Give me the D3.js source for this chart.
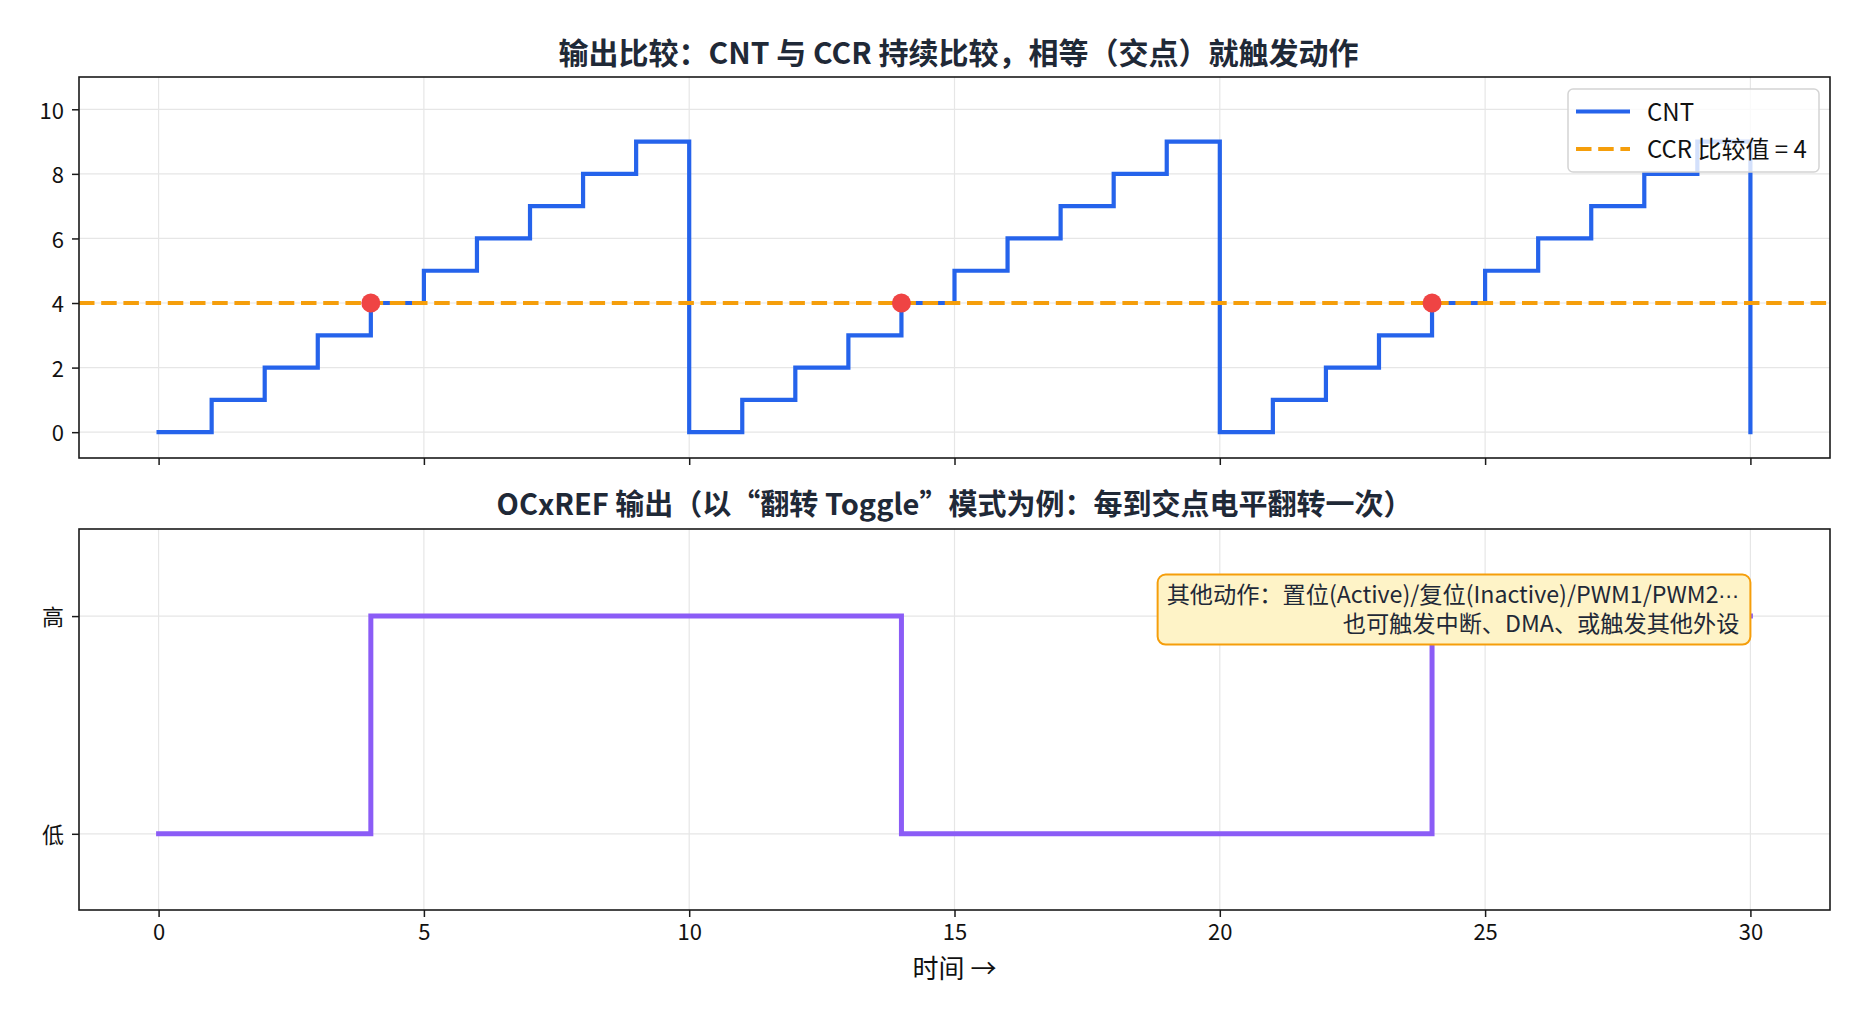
<!DOCTYPE html>
<html>
<head>
<meta charset="utf-8">
<script src="https://cdn.jsdelivr.net/npm/d3@7"></script>
<style>
  html, body { margin: 0; padding: 0; background: #ffffff; }
  svg { display: block; font-family: "Noto Sans CJK SC", "Noto Sans", sans-serif; }
</style>
</head>
<body>
<svg id="chart" width="1871" height="1024"></svg>
<script>
// ---------------- data ----------------
const timeSteps = [0,1,2,3,4,5,6,7,8,9,10,11,12,13,14,15,16,17,18,19,20,21,22,23,24,25,26,27,28,29,30];
const cntValues = [0,1,2,3,4,5,6,7,8,9,0,1,2,3,4,5,6,7,8,9,0,1,2,3,4,5,6,7,8,9,0];
const ocrefLevels = [0,0,0,0,1,1,1,1,1,1,1,1,1,1,0,0,0,0,0,0,0,0,0,0,1,1,1,1,1,1,1];
const ccrValue = 4;
const matchTimes = [4,14,24];
const matchValues = [4,4,4];
const xTickValues = [0,5,10,15,20,25,30];
const yTickValuesTop = [0,2,4,6,8,10];
const levelTickValues = [0,1];
const levelTickLabels = ["低","高"];
const titleTop = "输出比较：CNT 与 CCR 持续比较，相等（交点）就触发动作";
const titleBottom = "OCxREF 输出（以“翻转 Toggle”模式为例：每到交点电平翻转一次）";
const xAxisLabel = "时间 →";
const legendLabels = ["CNT", "CCR 比较值 = 4"];
const noteLine1 = "其他动作：置位(Active)/复位(Inactive)/PWM1/PWM2";
const noteEllipsis = "⋯";
const noteLine2 = "也可触发中断、DMA、或触发其他外设";

// ---------------- layout ----------------
const W = 1871, H = 1024;
const left = 79, right = 1830;
const top1 = 77, bot1 = 458;
const top2 = 529, bot2 = 910;
const textColor = "#1f2937";
const gridColor = "#e6e6e6";
const spineColor = "#1a1a1a";
const blue = "#2563eb", orange = "#f59e0b", red = "#ef4444", purple = "#8b5cf6";
const tickFont = 22, legendFont = 24, titleFont = 30, title2Font = 29, noteFont = 23.2, labelFont = 26;

const svg = d3.select("#chart");
svg.append("rect").attr("width", W).attr("height", H).attr("fill", "#fff");

const x = d3.scaleLinear().domain([-1.5, 31.5]).range([left, right]);
const y1 = d3.scaleLinear().domain([-0.8, 11]).range([bot1, top1]);
const y2 = d3.scaleLinear().domain([-0.35, 1.4]).range([bot2, top2]);

function drawGrid(g, yScale, yTicks, yTop, yBot) {
  g.selectAll(".vg").data(xTickValues).enter().append("line")
    .attr("x1", d => x(d)).attr("x2", d => x(d))
    .attr("y1", yTop).attr("y2", yBot)
    .attr("stroke", gridColor).attr("stroke-width", 1.2);
  g.selectAll(".hg").data(yTicks).enter().append("line")
    .attr("x1", left).attr("x2", right)
    .attr("y1", d => yScale(d)).attr("y2", d => yScale(d))
    .attr("stroke", gridColor).attr("stroke-width", 1.2);
}

function styleAxis(axisG, fontSize) {
  axisG.select(".domain").remove();
  axisG.selectAll(".tick line").attr("stroke", spineColor).attr("stroke-width", 1.5);
  axisG.selectAll(".tick text").attr("fill", "#111").attr("font-size", fontSize)
    .attr("font-family", "'Noto Sans CJK SC', sans-serif");
}

// clip paths
const defs = svg.append("defs");
defs.append("clipPath").attr("id", "clip1").append("rect")
  .attr("x", left).attr("y", top1).attr("width", right - left).attr("height", bot1 - top1);
defs.append("clipPath").attr("id", "clip2").append("rect")
  .attr("x", left).attr("y", top2).attr("width", right - left).attr("height", bot2 - top2);

// ================= top panel =================
const g1 = svg.append("g");
drawGrid(g1, y1, yTickValuesTop, top1, bot1);

const plot1 = g1.append("g").attr("clip-path", "url(#clip1)");
const cntLine = d3.line().x(d => x(d[0])).y(d => y1(d[1])).curve(d3.curveStepAfter);
plot1.append("path")
  .datum(timeSteps.map((t, i) => [t, cntValues[i]]))
  .attr("d", cntLine)
  .attr("fill", "none").attr("stroke", blue).attr("stroke-width", 4.2)
  .attr("stroke-linejoin", "miter").attr("stroke-linecap", "square");

plot1.append("line")
  .attr("x1", left).attr("x2", right)
  .attr("y1", y1(ccrValue)).attr("y2", y1(ccrValue))
  .attr("stroke", orange).attr("stroke-width", 4.2)
  .attr("stroke-dasharray", "15.5,6.7");

plot1.selectAll(".match").data(matchTimes).enter().append("circle")
  .attr("cx", d => x(d)).attr("cy", (d, i) => y1(matchValues[i]))
  .attr("r", 9.5).attr("fill", red);

const ax1x = g1.append("g").attr("transform", `translate(0,${bot1})`)
  .call(d3.axisBottom(x).tickValues(xTickValues).tickSize(7).tickFormat(""));
styleAxis(ax1x, tickFont);
const ax1y = g1.append("g").attr("transform", `translate(${left},0)`)
  .call(d3.axisLeft(y1).tickValues(yTickValuesTop).tickSize(7).tickPadding(8).tickFormat(d3.format("d")));
styleAxis(ax1y, tickFont);
ax1y.selectAll(".tick text").attr("dy", "0.4em");

g1.append("rect").attr("x", left).attr("y", top1).attr("width", right - left).attr("height", bot1 - top1)
  .attr("fill", "none").attr("stroke", spineColor).attr("stroke-width", 1.6);

g1.append("text").attr("x", (left + right) / 2 + 4).attr("y", 64)
  .attr("text-anchor", "middle").attr("font-size", titleFont).attr("font-weight", 700)
  .attr("fill", textColor).text(titleTop);

// legend
const lg = g1.append("g");
lg.append("rect").attr("x", 1568).attr("y", 89).attr("width", 251).attr("height", 83)
  .attr("rx", 5).attr("ry", 5)
  .attr("fill", "#ffffff").attr("fill-opacity", 0.8)
  .attr("stroke", "#d4d4d4").attr("stroke-width", 1.5);
const legendItems = [
  { label: legendLabels[0], color: blue, dash: null },
  { label: legendLabels[1], color: orange, dash: "15.5,6.7" }
];
legendItems.forEach((it, i) => {
  const cy = 111.5 + i * 37.5;
  lg.append("line").attr("x1", 1576).attr("x2", 1630).attr("y1", cy).attr("y2", cy)
    .attr("stroke", it.color).attr("stroke-width", 4.2)
    .attr("stroke-dasharray", it.dash);
  lg.append("text").attr("x", 1647).attr("y", cy).attr("dy", "0.38em")
    .attr("font-size", legendFont).attr("fill", "#111").text(it.label);
});

// ================= bottom panel =================
const g2 = svg.append("g");
drawGrid(g2, y2, levelTickValues, top2, bot2);

const plot2 = g2.append("g").attr("clip-path", "url(#clip2)");
const lvlLine = d3.line().x(d => x(d[0])).y(d => y2(d[1])).curve(d3.curveStepAfter);
plot2.append("path")
  .datum(timeSteps.map((t, i) => [t, ocrefLevels[i]]))
  .attr("d", lvlLine)
  .attr("fill", "none").attr("stroke", purple).attr("stroke-width", 5)
  .attr("stroke-linejoin", "miter").attr("stroke-linecap", "square");

// annotation box
const noteG = g2.append("g");
const noteRight = x(30) - 11;
const noteCenter = y2(1.03);
const t1 = noteG.append("text").attr("font-size", noteFont).attr("fill", textColor)
  .attr("text-anchor", "end").attr("x", noteRight)
  .attr("y", noteCenter - 14.5).attr("dy", "0.36em");
t1.append("tspan").text(noteLine1);
t1.append("tspan").attr("font-family", "'DejaVu Sans', sans-serif").attr("font-size", noteFont * 0.9)
  .text(noteEllipsis);
const t2 = noteG.append("text").attr("font-size", noteFont).attr("fill", textColor)
  .attr("text-anchor", "end").attr("x", noteRight)
  .attr("y", noteCenter + 14.5).attr("dy", "0.36em").text(noteLine2);
const bb = t1.node().getBBox();
noteG.insert("rect", "text")
  .attr("x", bb.x - 9).attr("y", noteCenter - 35)
  .attr("width", bb.width + 9 + 11).attr("height", 70)
  .attr("rx", 8).attr("ry", 8)
  .attr("fill", "#fef3c7").attr("stroke", orange).attr("stroke-width", 2);

const ax2x = g2.append("g").attr("transform", `translate(0,${bot2})`)
  .call(d3.axisBottom(x).tickValues(xTickValues).tickSize(7).tickPadding(7).tickFormat(d3.format("d")));
styleAxis(ax2x, tickFont);
const ax2y = g2.append("g").attr("transform", `translate(${left},0)`)
  .call(d3.axisLeft(y2).tickValues(levelTickValues).tickSize(7).tickPadding(8)
    .tickFormat((d, i) => levelTickLabels[i]));
styleAxis(ax2y, tickFont);
ax2y.selectAll(".tick text").attr("dy", "0.4em");

g2.append("rect").attr("x", left).attr("y", top2).attr("width", right - left).attr("height", bot2 - top2)
  .attr("fill", "none").attr("stroke", spineColor).attr("stroke-width", 1.6);

g2.append("text").attr("x", (left + right) / 2).attr("y", 515)
  .attr("text-anchor", "middle").attr("font-size", title2Font).attr("font-weight", 700)
  .attr("fill", textColor).text(titleBottom);

svg.append("text").attr("x", (left + right) / 2).attr("y", 969).attr("dy", "0.36em")
  .attr("text-anchor", "middle").attr("font-size", labelFont).attr("fill", "#111").text(xAxisLabel);
</script>
</body>
</html>
